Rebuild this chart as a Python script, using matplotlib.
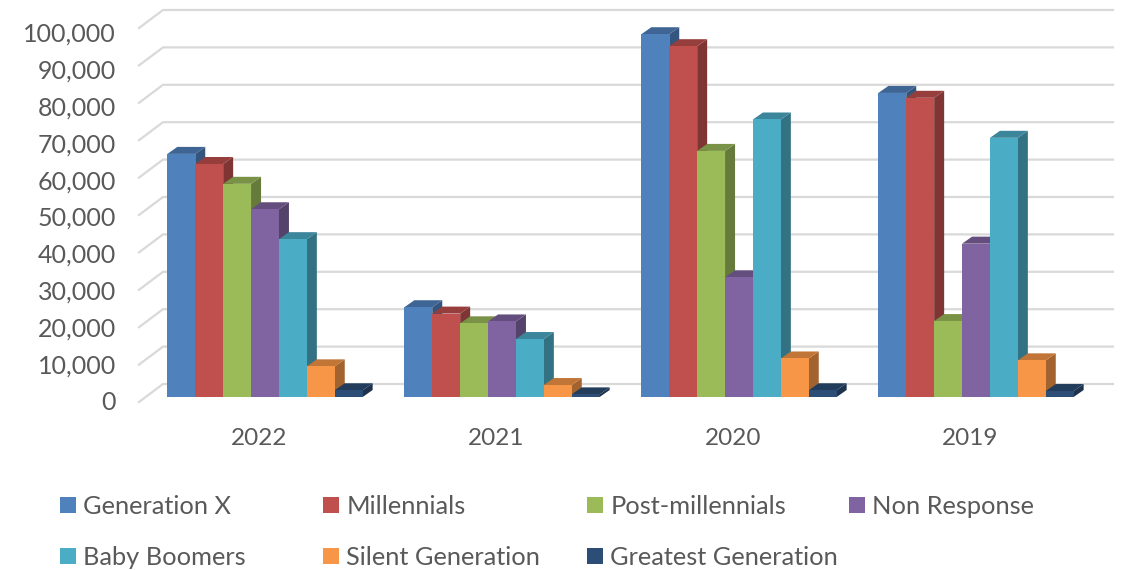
import matplotlib
matplotlib.use("Agg")
import matplotlib.pyplot as plt
from matplotlib.patches import Polygon
from matplotlib.transforms import ScaledTranslation
from matplotlib.colors import to_rgb

years = ["2022", "2021", "2020", "2019"]
generation_x = [65000, 24000, 97000, 81300]
millennials = [62300, 22300, 93800, 80000]
post_millennials = [57000, 19700, 65800, 20300]
non_response = [50200, 20200, 32000, 41000]
baby_boomers = [42200, 15500, 74200, 69300]
silent_generation = [8200, 3200, 10300, 9800]
greatest_generation = [1800, 700, 1800, 1600]
series_names = ["Generation X", "Millennials", "Post-millennials", "Non Response",
                "Baby Boomers", "Silent Generation", "Greatest Generation"]
series_values = [generation_x, millennials, post_millennials, non_response,
                 baby_boomers, silent_generation, greatest_generation]
colors = ["#4F81BD", "#C0504D", "#9BBB59", "#8064A2", "#4BACC6", "#F79646", "#2C4D75"]
yticks = list(range(0, 100001, 10000))

W, H = 1122, 570
plt.rcParams["font.family"] = ["Lato", "DejaVu Sans"]
TXT = "#595959"
FS = 18
fig = plt.figure(figsize=(W / 100, H / 100), dpi=100)

# pixel geometry of the plot
L, R, Y0, YT = 139, 1113, 397, 5
GROUP = 237.0          # px per category
X0 = 265.0             # px of first category centre
PXV = 37.4 / 10000     # px per unit of value
ax = fig.add_axes([L / W, (H - Y0) / H, (R - L) / W, (Y0 - YT) / H])
ax.set_xlim((L - X0) / GROUP, (R - X0) / GROUP)
for s in ax.spines.values():
    s.set_visible(False)
ax.patch.set_visible(False)

def px(dx):
    return dx / GROUP

def pv(dy):
    return dy / PXV

# wall gridlines and floor diagonals
grid = "#D9D9D9"
xl, xr = ax.get_xlim()
for v in yticks:
    ax.plot([xl, xl + px(24), xr], [v + pv(-5), v + pv(13), v + pv(13)],
            color=grid, lw=1.6, clip_on=False, zorder=1, solid_joinstyle="miter")

def shade(c, f):
    return tuple(x * f for x in to_rgb(c))

# bars with pseudo-depth
BW = 27.9 / GROUP
DX, DY = px(10), pv(7)
z = 2
for i in range(len(years)):
    for j, vals in enumerate(series_values):
        x = i + (j - 3.5) * BW
        v = vals[i]
        c = colors[j]
        xr_ = x + BW
        ax.add_patch(Polygon([(xr_, 0), (xr_ + DX, DY), (xr_ + DX, v + DY), (xr_, v)],
                             closed=True, fc=shade(c, 0.66), ec="none", zorder=z, clip_on=False))
        ax.add_patch(Polygon([(x, v), (x + DX, v + DY), (xr_ + DX, v + DY), (xr_, v)],
                             closed=True, fc=shade(c, 0.78), ec="none", zorder=z, clip_on=False))
        ax.bar(x, v, width=BW, align="edge", color=c, lw=0, zorder=z + 0.5, clip_on=False)
        z += 1

# tick labels
ax.set_xticks([i - 6 / GROUP for i in range(len(years))], years)
ax.set_yticks(yticks, [f"{v:,}" for v in yticks])
ax.set_ylim(0, (Y0 - YT) / PXV)
ax.set_xlim(xl, xr)
ax.tick_params(axis="x", length=0, pad=22, labelsize=17.5, labelcolor=TXT)
ax.tick_params(axis="y", length=0, pad=16.5, labelsize=FS, labelcolor=TXT)
for v, lab in zip(yticks, ax.get_yticklabels()):
    lab.set_transform(lab.get_transform() + ScaledTranslation(
        0, (-4 - 0.5 * v / 10000) / 100, fig.dpi_scale_trans))

# legend, one block per column
columns = [[0, 4], [1, 5], [2, 6], [3]]
col_px = [60, 323, 587, 849]
for col, xp in zip(columns, col_px):
    handles = [plt.Rectangle((0, 0), 1, 1, fc=colors[k], ec="none") for k in col]
    fig.legend(handles, [series_names[k] for k in col], loc="upper left",
               bbox_to_anchor=(xp / W, 1 - 495 / H), frameon=False, fontsize=18.3,
               labelcolor=TXT, handlelength=0.63, handleheight=0.63, handletextpad=0.28,
               borderpad=0, borderaxespad=0, labelspacing=1.1)

fig.savefig("out.png", dpi=100)
